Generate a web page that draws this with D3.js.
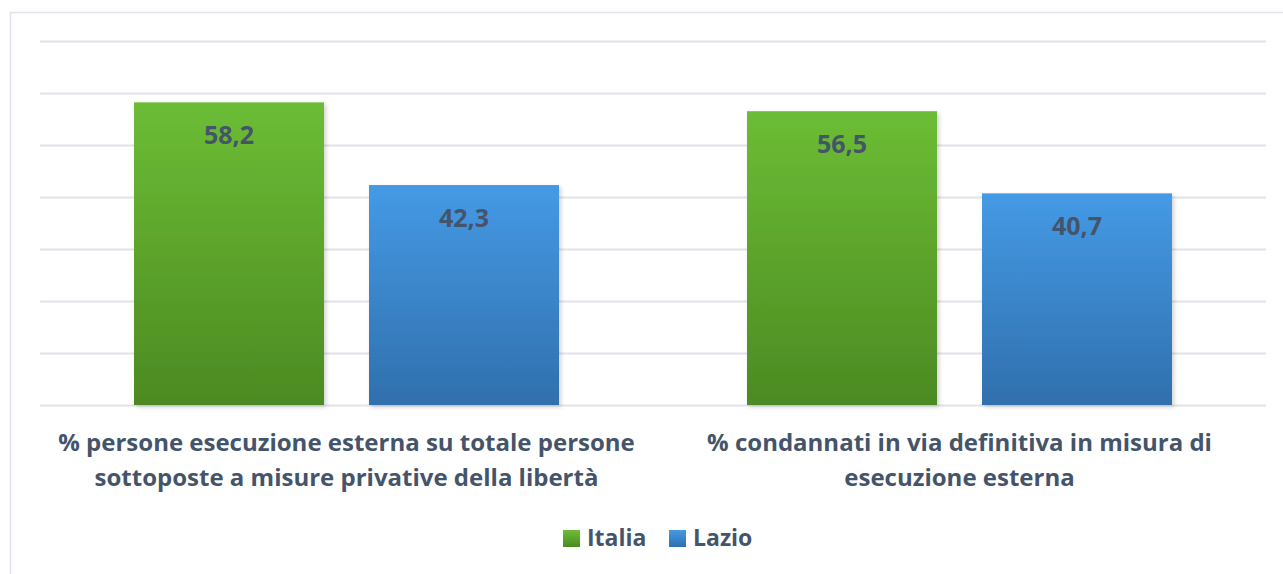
<!DOCTYPE html>
<html>
<head>
<meta charset="utf-8">
<script src="https://cdn.jsdelivr.net/npm/d3@7"></script>
<style>
  body { margin: 0; background: #fff; }
  svg { display: block; }
</style>
</head>
<body>
<script>
var categories = [
  ["% persone esecuzione esterna su totale persone", "sottoposte a misure privative della libertà"],
  ["% condannati in via definitiva in misura di", "esecuzione esterna"]
];
var seriesNames = ["Italia", "Lazio"];
var italia = [58.2, 56.5];
var lazio = [42.3, 40.7];
var yTicks = [0, 10, 20, 30, 40, 50, 60, 70];

var width = 1283, height = 574;
var textColor = "#44546a";
var font = "'Open Sans', sans-serif";

var svg = d3.select("body").append("svg")
  .attr("width", width)
  .attr("height", height);

var defs = svg.append("defs");
var grads = [["gGreen", "#6cbd35", "#4c8a22"], ["gBlue", "#459ae5", "#306fad"]];
grads.forEach(function(g) {
  var lg = defs.append("linearGradient").attr("id", g[0])
    .attr("x1", 0).attr("y1", 0).attr("x2", 0).attr("y2", 1);
  lg.append("stop").attr("offset", "0%").attr("stop-color", g[1]);
  lg.append("stop").attr("offset", "100%").attr("stop-color", g[2]);
});
var f = defs.append("filter").attr("id", "shadow")
  .attr("x", "-10%").attr("y", "-10%").attr("width", "130%").attr("height", "130%");
f.append("feDropShadow").attr("dx", 2).attr("dy", 2).attr("stdDeviation", 2)
  .attr("flood-color", "#000").attr("flood-opacity", 0.18);

// outer border
svg.append("rect")
  .attr("x", 10.5).attr("y", 12.5)
  .attr("width", width + 10).attr("height", height + 10)
  .attr("fill", "none").attr("stroke", "#dfe4ec").attr("stroke-width", 1.5);

var plotL = 40, plotR = 1266, plotT = 41, plotB = 405;

var y = d3.scaleLinear().domain([0, 70]).range([plotB, plotT]);
var x0 = d3.scaleBand().domain(d3.range(categories.length)).range([plotL, plotR]);
var x1 = d3.scaleBand().domain(seriesNames).range([0, x0.bandwidth()])
  .paddingInner(0.1915).paddingOuter(0.4);

// gridlines
var yAxis = d3.axisLeft(y).tickValues(yTicks).tickSize(-(plotR - plotL)).tickFormat("");
var ga = svg.append("g").attr("transform", "translate(" + plotL + ",0)").call(yAxis);
ga.select(".domain").remove();
ga.selectAll("line").attr("stroke", "#dfe3ea").attr("stroke-width", 2);

var data = [];
categories.forEach(function(c, i) {
  data.push({ cat: i, s: "Italia", v: italia[i], fill: "url(#gGreen)" });
  data.push({ cat: i, s: "Lazio", v: lazio[i], fill: "url(#gBlue)" });
});

svg.selectAll("rect.bar")
  .data(data)
  .enter()
  .append("rect")
  .attr("class", "bar")
  .attr("x", function(d) { return x0(d.cat) + x1(d.s); })
  .attr("y", function(d) { return y(d.v); })
  .attr("width", x1.bandwidth())
  .attr("height", function(d) { return y(0) - y(d.v); })
  .attr("fill", function(d) { return d.fill; })
  .attr("filter", "url(#shadow)");

svg.selectAll("text.val")
  .data(data)
  .enter()
  .append("text")
  .attr("class", "val")
  .text(function(d) { return String(d.v).replace(".", ","); })
  .attr("x", function(d) { return x0(d.cat) + x1(d.s) + x1.bandwidth() / 2; })
  .attr("y", function(d) { return y(d.v) + 42; })
  .attr("text-anchor", "middle")
  .attr("font-family", font)
  .attr("font-weight", "bold")
  .attr("font-size", "25px")
  .attr("fill", textColor);

// category labels
categories.forEach(function(lines, i) {
  var t = svg.append("text")
    .attr("text-anchor", "middle")
    .attr("font-family", font)
    .attr("font-weight", "bold")
    .attr("font-size", "24px")
    .attr("fill", textColor);
  lines.forEach(function(l, j) {
    t.append("tspan")
      .attr("x", x0(i) + x0.bandwidth() / 2)
      .attr("y", 451 + j * 35)
      .text(l);
  });
});

// legend
var legend = svg.append("g");
var items = [["Italia", "url(#gGreen)", 563], ["Lazio", "url(#gBlue)", 669]];
items.forEach(function(it) {
  legend.append("rect")
    .attr("x", it[2]).attr("y", 530)
    .attr("width", 17).attr("height", 17)
    .attr("fill", it[1]);
  legend.append("text")
    .attr("x", it[2] + 24).attr("y", 546)
    .text(it[0])
    .attr("font-family", font)
    .attr("font-weight", "bold")
    .attr("font-size", "23px")
    .attr("fill", textColor);
});
</script>
</body>
</html>
